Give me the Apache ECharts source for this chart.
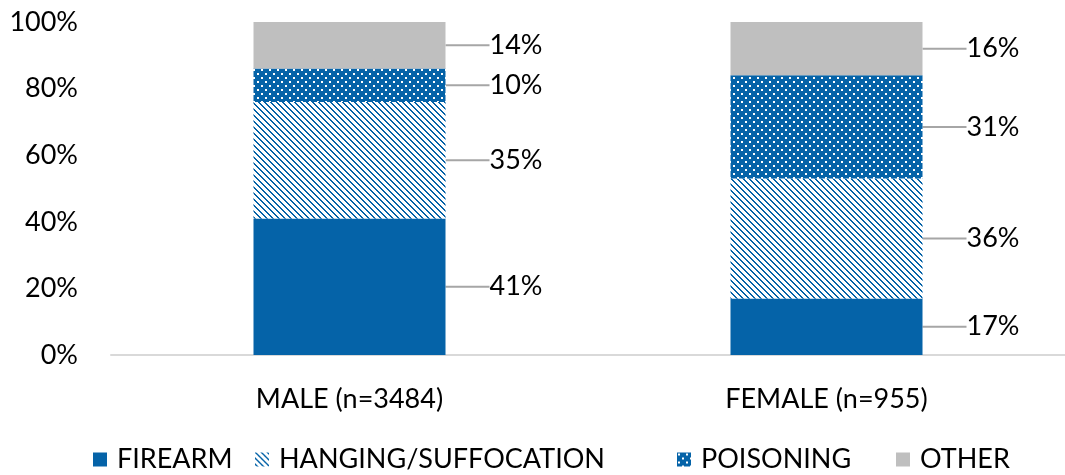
<!DOCTYPE html>
<html>
<head>
<meta charset="utf-8">
<script src="https://cdn.jsdelivr.net/npm/echarts@6/dist/echarts.min.js"></script>
<style>
  html, body { margin: 0; padding: 0; background: #fff; }
  #chart { width: 1065px; height: 475px; }
</style>
</head>
<body>
<div id="chart"></div>
<script>
const categories = ["MALE (n=3484)", "FEMALE (n=955)"];
const seriesNames = ["FIREARM", "HANGING/SUFFOCATION", "POISONING", "OTHER"];
const firearm = [41, 17];
const hanging = [35, 36];
const poisoning = [10, 31];
const other = [14, 16];

const BLUE = "#0563a8";
const GREY = "#bfbfbf";
const FONT = "Lato";
const FS = 27;

// diagonal hatch "\" : blue on white
function hatchPattern() {
  const c = document.createElement("canvas");
  c.width = 6; c.height = 6;
  const ctx = c.getContext("2d");
  ctx.fillStyle = "#fff";
  ctx.fillRect(0, 0, 6, 6);
  ctx.fillStyle = BLUE;
  for (let y = 0; y < 6; y++) {
    for (let x = 0; x < 6; x++) {
      if (((x - y) % 6 + 6) % 6 < 2) ctx.fillRect(x, y, 1, 1);
    }
  }
  return c;
}

// white dots on blue
function dotPattern() {
  const c = document.createElement("canvas");
  c.width = 8; c.height = 8;
  const ctx = c.getContext("2d");
  ctx.fillStyle = BLUE;
  ctx.fillRect(0, 0, 8, 8);
  ctx.fillStyle = "#fff";
  ctx.fillRect(1, 1, 2, 2);
  ctx.fillRect(5, 5, 2, 2);
  return c;
}

const fills = [
  BLUE,
  { image: hatchPattern(), repeat: "repeat" },
  { image: dotPattern(), repeat: "repeat" },
  GREY
];
const values = [firearm, hanging, poisoning, other];
const legendLeft = [93, 255, 677, 896];

const chart = echarts.init(document.getElementById("chart"));

chart.setOption({
  animation: false,
  textStyle: { fontFamily: FONT },
  grid: { left: 111, top: 22, width: 966, height: 333 },
  legend: seriesNames.map((name, i) => ({
    top: 446,
    left: legendLeft[i],
    padding: 0,
    icon: "rect",
    itemWidth: 14,
    itemHeight: 14,
    textStyle: { fontFamily: FONT, fontSize: FS, color: "#000", padding: [0, 0, 0, 5] },
    data: [name]
  })),
  xAxis: {
    type: "category",
    data: categories,
    axisLine: { lineStyle: { color: "#d9d9d9", width: 2 } },
    axisTick: { show: false },
    axisLabel: { fontFamily: FONT, fontSize: FS, color: "#000", margin: 31 }
  },
  yAxis: {
    type: "value",
    min: 0,
    max: 100,
    interval: 20,
    axisLine: { show: false },
    axisTick: { show: false },
    splitLine: { show: false },
    axisLabel: { fontFamily: FONT, fontSize: FS, color: "#000", margin: 33, formatter: "{value}%" }
  },
  series: seriesNames.map((name, i) => ({
    name: name,
    type: "bar",
    stack: "total",
    barWidth: 192,
    data: values[i],
    itemStyle: { color: fills[i] },
    label: {
      show: true,
      position: "right",
      distance: 0,
      fontFamily: FONT,
      fontSize: FS,
      color: "#000",
      padding: [0, 0, 0, 8],
      formatter: "{c}%"
    },
    labelLayout: { dx: 36 },
    labelLine: { show: true, lineStyle: { color: "#a6a6a6", width: 2 } }
  }))
});
</script>
</body>
</html>
